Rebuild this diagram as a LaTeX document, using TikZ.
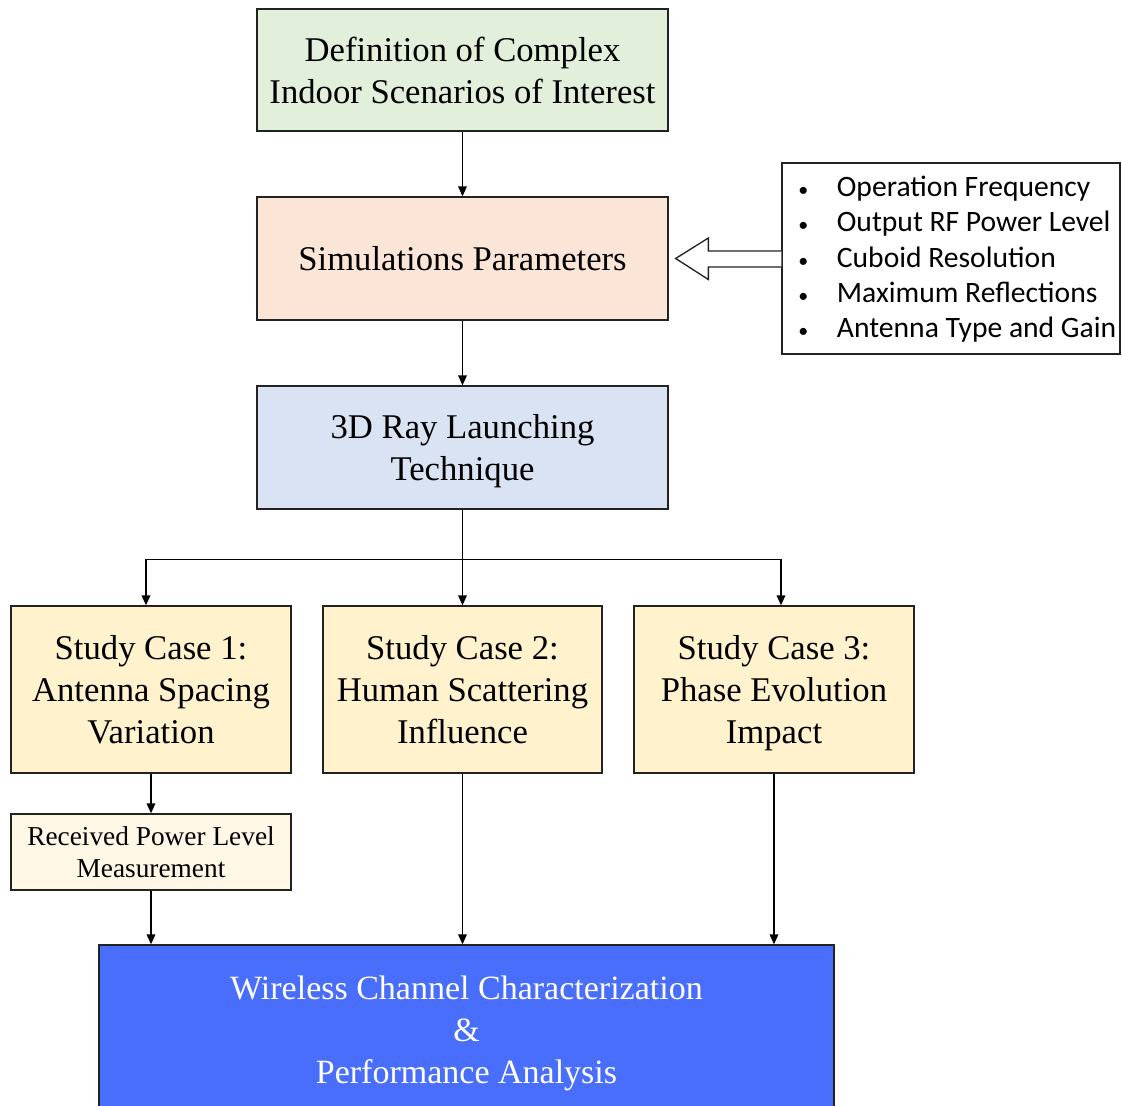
\documentclass[tikz,border=0pt]{standalone}
\usepackage{fontspec}
\setmainfont{Liberation Serif}
\newfontfamily\calfont{Carlito}
\usetikzlibrary{arrows.meta,calc}
\newcommand{\pxu}{0.75pt}
\newcommand{\nodep}[1]{\raisebox{0pt}[\height][0pt]{#1}}
\definecolor{cgreen}{HTML}{E2EFDA}
\definecolor{cpeach}{HTML}{FBE5D6}
\definecolor{clblue}{HTML}{DAE3F3}
\definecolor{cyel}{HTML}{FFF2CC}
\definecolor{clyel}{HTML}{FFF8E6}
\definecolor{cblue}{HTML}{4A6EFC}
\definecolor{edge}{HTML}{222222}
\begin{document}
\begin{tikzpicture}[x=0.75pt,y=-0.75pt,
  box/.style={draw=edge,line width=1pt,rectangle,inner sep=0pt,align=center,
    font=\fontsize{26}{31.5}\selectfont,text=black},
  arr/.style={draw=black,line width=1pt,-{Triangle[length=7.5pt,width=6.5pt]}},
  ]
\path[use as bounding box] (0,0) rectangle (1122,1106);
\node[box,fill=cgreen,minimum width=411*\pxu,minimum height=122*\pxu] (b1) at (462.5,70)
  {Definition of Complex\\Indoor Scenarios of Interest};
\node[box,fill=cpeach,minimum width=411*\pxu,minimum height=123*\pxu] (b2) at (462.5,258.5)
  {Simulations Parameters};
\node[box,fill=clblue,minimum width=411*\pxu,minimum height=123*\pxu] (b3) at (462.5,447.5)
  {3D Ray Launching\\\nodep{Technique}};
\node[draw=edge,line width=1pt,fill=white,minimum width=338*\pxu,minimum height=191*\pxu,inner sep=0pt] (side) at (951,258.5) {};
\node[anchor=west,inner sep=0pt,font=\calfont\fontsize{22.2}{26.5}\selectfont] (sidetext) at (798,260)
  {\begin{tabular}{@{}l@{\hspace{21.5pt}}l@{}}
   {\fontsize{15}{15}\selectfont •} & Operation Frequency\\
   {\fontsize{15}{15}\selectfont •} & Output RF Power Level\\
   {\fontsize{15}{15}\selectfont •} & Cuboid Resolution\\
   {\fontsize{15}{15}\selectfont •} & Maximum Reflections\\
   {\fontsize{15}{15}\selectfont •} & Antenna Type and Gain
   \end{tabular}};
\node[box,fill=cyel,minimum width=280*\pxu,minimum height=167*\pxu] (c1) at (151,689.5)
  {Study Case 1:\\Antenna Spacing\\Variation};
\node[box,fill=cyel,minimum width=279*\pxu,minimum height=167*\pxu] (c2) at (462.5,689.5)
  {Study Case 2:\\Human Scattering\\Influence};
\node[box,fill=cyel,minimum width=280*\pxu,minimum height=167*\pxu] (c3) at (774,689.5)
  {Study Case 3:\\Phase Evolution\\\nodep{Impact}};
\node[box,fill=clyel,minimum width=280*\pxu,minimum height=76*\pxu,font=\fontsize{20.5}{24}\selectfont] (rx) at (151,852)
  {Received Power Level\\Measurement};
\node[box,fill=cblue,text=white,minimum width=735*\pxu,minimum height=176*\pxu,font=\fontsize{25.5}{31.5}\selectfont] (bot) at (466.5,1033)
  {Wireless Channel Characterization\\\&\\Performance Analysis};
% hollow arrow
\draw[draw=edge,line width=1pt,fill=white]
  ($(side.west)+(0,-7.5)$) -- ++(-73,0) -- ++(0,-13) -- ($(b2.east)+(7,0)$)
  -- ($(side.west)+(-73,21)$) -- ++(0,-12.5) -- ($(side.west)+(0,8.5)$);
% connectors
\draw[arr] (b1.south) -- (b2.north);
\draw[arr] (b2.south) -- (b3.north);
\coordinate (j) at ($(b3.south)+(0,50)$);
\draw[arr] (b3.south) -- (c2.north);
\draw[arr] (j) -| ([xshift=-5*\pxu]c1.north);
\draw[arr] (j) -| ([xshift=7*\pxu]c3.north);
\draw[arr] (c1.south) -- (rx.north);
\draw[arr] (rx.south) -- (rx.south |- bot.north);
\draw[arr] (c2.south) -- (c2.south |- bot.north);
\draw[arr] (c3.south) -- (c3.south |- bot.north);
\end{tikzpicture}
\end{document}
